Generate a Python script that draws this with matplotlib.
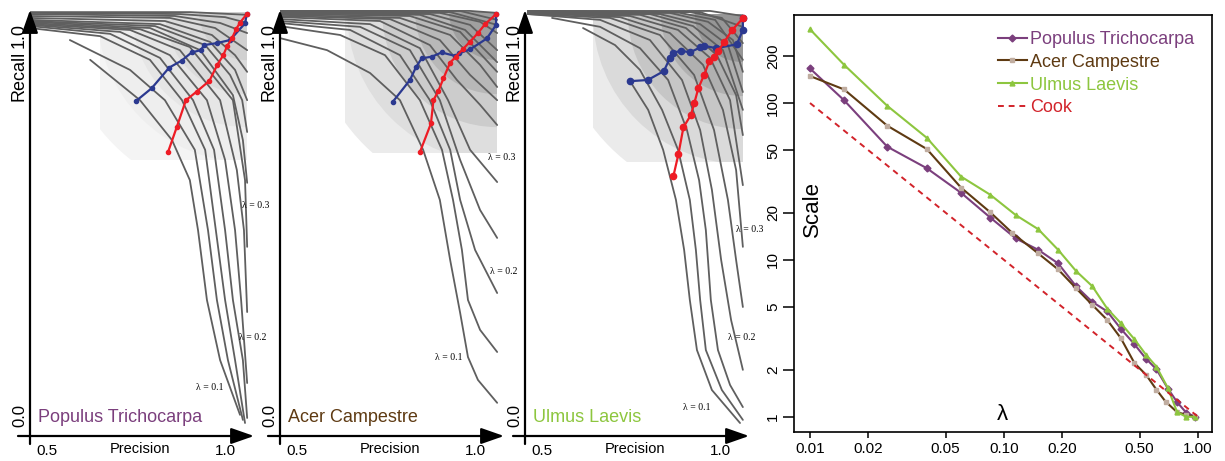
import matplotlib
matplotlib.use("Agg")
import matplotlib.pyplot as plt
from matplotlib.patches import Ellipse, Rectangle

plt.rcParams['font.family'] = ['Liberation Sans', 'DejaVu Sans']

# --- DATA: precision-recall curves (precision list, recall list) ---

populus_curves = [
    ([0.621, 0.761, 0.851, 0.901, 0.924, 0.949, 0.986, 1.042], [0.936, 0.832, 0.729, 0.626, 0.497, 0.317, 0.162, 0.021]),
    ([0.564, 0.733, 0.831, 0.915, 0.952, 0.977, 1.008, 1.050], [0.987, 0.910, 0.832, 0.704, 0.497, 0.317, 0.162, 0.008]),
    ([0.452, 0.649, 0.789, 0.879, 0.944, 0.974, 1.000, 1.028, 1.056], [1.018, 0.997, 0.936, 0.832, 0.704, 0.497, 0.317, 0.162, 0.000]),
    ([0.452, 0.677, 0.817, 0.910, 0.969, 1.000, 1.022, 1.050, 1.062], [1.023, 1.003, 0.941, 0.832, 0.704, 0.497, 0.317, 0.162, 0.013]),
    ([0.452, 0.705, 0.845, 0.949, 1.000, 1.028, 1.045, 1.062], [1.026, 1.008, 0.948, 0.832, 0.678, 0.497, 0.317, 0.103]),
    ([0.452, 0.733, 0.873, 0.986, 1.033, 1.053, 1.062], [1.028, 1.013, 0.961, 0.832, 0.652, 0.497, 0.286]),
    ([0.452, 0.761, 0.901, 1.022, 1.056, 1.062], [1.031, 1.015, 0.969, 0.832, 0.626, 0.454]),
    ([0.452, 0.789, 0.930, 1.022, 1.050, 1.062], [1.034, 1.018, 0.961, 0.845, 0.729, 0.619]),
    ([0.452, 0.803, 0.944, 1.014, 1.048, 1.062], [1.036, 1.023, 0.974, 0.897, 0.832, 0.750]),
    ([0.452, 0.817, 0.958, 1.028, 1.062], [1.039, 1.028, 0.982, 0.910, 0.832]),
    ([0.452, 0.831, 0.963, 1.028, 1.062], [1.044, 1.036, 1.000, 0.948, 0.905]),
    ([0.452, 0.845, 0.972, 1.062], [1.049, 1.044, 1.018, 0.961]),
    ([0.452, 0.859, 0.986, 1.062], [1.054, 1.049, 1.031, 1.005]),
    ([0.452, 0.873, 1.000, 1.062], [1.057, 1.054, 1.046, 1.031]),
    ([0.452, 0.901, 1.062], [1.059, 1.059, 1.052]),
]
populus_blue = ([0.750, 0.794, 0.843, 0.878, 0.906, 0.932, 0.941, 0.976, 1.014, 1.056, 1.061],
                [0.830, 0.863, 0.916, 0.934, 0.955, 0.961, 0.974, 0.979, 0.987, 1.030, 1.054])
populus_red = ([0.840, 0.864, 0.890, 0.920, 0.956, 0.978, 0.995, 1.006, 1.019, 1.031, 1.042, 1.061],
               [0.699, 0.762, 0.832, 0.854, 0.882, 0.923, 0.948, 0.972, 0.991, 1.015, 1.032, 1.054])

acer_curves = [
    ([0.452, 0.584, 0.705, 0.789, 0.854, 0.901, 0.930, 0.958, 0.980, 1.008, 1.062], [0.992, 0.961, 0.902, 0.832, 0.704, 0.575, 0.420, 0.284, 0.170, 0.111, 0.052]),
    ([0.452, 0.621, 0.747, 0.845, 0.907, 0.938, 0.963, 0.980, 1.014, 1.062], [1.023, 1.000, 0.948, 0.832, 0.704, 0.575, 0.446, 0.317, 0.240, 0.183]),
    ([0.452, 0.649, 0.789, 0.873, 0.930, 0.958, 1.000, 1.062], [1.031, 1.013, 0.948, 0.832, 0.704, 0.575, 0.446, 0.335]),
    ([0.452, 0.677, 0.817, 0.901, 0.958, 1.014, 1.062], [1.036, 1.021, 0.961, 0.832, 0.678, 0.549, 0.477]),
    ([0.452, 0.705, 0.845, 0.924, 0.986, 1.062], [1.041, 1.028, 0.966, 0.832, 0.704, 0.621]),
    ([0.452, 0.733, 0.873, 0.949, 1.014, 1.062], [1.046, 1.036, 0.974, 0.884, 0.820, 0.768]),
    ([0.452, 0.761, 0.901, 0.986, 1.062], [1.049, 1.041, 0.987, 0.897, 0.832]),
    ([0.452, 0.789, 0.930, 1.014, 1.062], [1.052, 1.044, 1.000, 0.923, 0.866]),
    ([0.452, 0.817, 0.958, 1.062], [1.054, 1.049, 1.008, 0.905]),
    ([0.452, 0.845, 0.972, 1.062], [1.057, 1.052, 1.013, 0.930]),
    ([0.452, 0.873, 0.986, 1.062], [1.057, 1.054, 1.026, 0.961]),
    ([0.452, 0.901, 1.014, 1.062], [1.059, 1.057, 1.034, 1.005]),
    ([0.452, 0.930, 1.062], [1.059, 1.059, 1.026]),
    ([0.452, 0.958, 1.062], [1.062, 1.062, 1.039]),
    ([0.452, 0.986, 1.062], [1.062, 1.062, 1.057]),
]
acer_blue = ([0.769, 0.817, 0.834, 0.850, 0.878, 0.906, 0.944, 0.956, 0.986, 1.033, 1.059, 1.059],
             [0.828, 0.884, 0.917, 0.940, 0.944, 0.955, 0.946, 0.953, 0.963, 0.991, 1.026, 1.054])
acer_red = ([0.845, 0.876, 0.883, 0.897, 0.911, 0.930, 0.946, 0.965, 0.986, 1.009, 1.028, 1.059],
            [0.698, 0.772, 0.832, 0.856, 0.888, 0.929, 0.944, 0.963, 0.983, 1.006, 1.028, 1.054])

ulmus_curves = [
    ([0.615, 0.705, 0.775, 0.837, 0.882, 0.915, 0.932, 0.944, 0.960, 1.005, 1.064], [1.018, 0.974, 0.910, 0.807, 0.704, 0.575, 0.446, 0.317, 0.188, 0.085, 0.008]),
    ([0.747, 0.798, 0.840, 0.876, 0.899, 0.915, 0.935, 0.977, 1.056], [0.881, 0.807, 0.704, 0.575, 0.446, 0.317, 0.188, 0.085, 0.000]),
    ([0.528, 0.663, 0.775, 0.854, 0.907, 0.941, 0.960, 0.974, 0.994, 1.028, 1.064], [1.044, 1.021, 0.966, 0.884, 0.755, 0.626, 0.497, 0.317, 0.188, 0.098, 0.041]),
    ([0.460, 0.663, 0.803, 0.893, 0.944, 0.977, 1.003, 1.031, 1.064], [1.054, 1.039, 0.987, 0.884, 0.755, 0.601, 0.420, 0.265, 0.137]),
    ([0.460, 0.691, 0.831, 0.927, 0.983, 1.022, 1.045, 1.064], [1.054, 1.044, 1.000, 0.897, 0.755, 0.575, 0.420, 0.299]),
    ([0.460, 0.719, 0.859, 0.952, 1.008, 1.045, 1.064], [1.057, 1.046, 1.005, 0.923, 0.807, 0.652, 0.454]),
    ([0.460, 0.747, 0.882, 0.972, 1.028, 1.064], [1.057, 1.049, 1.013, 0.941, 0.832, 0.613]),
    ([0.460, 0.775, 0.904, 0.991, 1.045, 1.064], [1.057, 1.052, 1.018, 0.948, 0.845, 0.742]),
    ([0.460, 0.803, 0.924, 1.008, 1.064], [1.059, 1.054, 1.023, 0.961, 0.807]),
    ([0.460, 0.831, 0.944, 1.022, 1.064], [1.059, 1.054, 1.028, 0.974, 0.853]),
    ([0.460, 0.859, 0.966, 1.036, 1.064], [1.059, 1.057, 1.034, 0.987, 0.905]),
    ([0.460, 0.887, 0.986, 1.064], [1.059, 1.057, 1.039, 0.936]),
    ([0.460, 0.915, 1.005, 1.064], [1.059, 1.059, 1.044, 0.979]),
    ([0.460, 0.944, 1.064], [1.062, 1.059, 1.021]),
    ([0.460, 0.972, 1.064], [1.062, 1.062, 1.049]),
]
ulmus_blue = ([0.747, 0.797, 0.842, 0.859, 0.867, 0.890, 0.915, 0.944, 0.956, 0.989, 1.047, 1.064, 1.064],
              [0.881, 0.884, 0.907, 0.940, 0.953, 0.960, 0.955, 0.968, 0.972, 0.966, 0.976, 1.013, 1.043])
ulmus_red = ([0.869, 0.883, 0.897, 0.918, 0.928, 0.939, 0.955, 0.970, 0.983, 0.995, 1.011, 1.034, 1.064],
             [0.637, 0.693, 0.762, 0.794, 0.826, 0.863, 0.897, 0.933, 0.944, 0.959, 0.981, 1.013, 1.043])

lam_labels = ['λ = 0.3', 'λ = 0.2', 'λ = 0.1']

# --- DATA: scale vs lambda ---
populus_lam = [0.01, 0.015, 0.025, 0.04, 0.06, 0.085, 0.115, 0.15, 0.19, 0.235, 0.285, 0.34, 0.40, 0.47, 0.54, 0.61, 0.70, 0.78, 0.87, 0.97]
populus_scale = [166, 104, 52.7, 38.4, 26.8, 18.6, 13.7, 11.6, 9.5, 6.8, 5.4, 4.7, 3.64, 2.90, 2.34, 2.01, 1.51, 1.24, 1.06, 1.0]
acer_lam = [0.01, 0.015, 0.025, 0.04, 0.06, 0.085, 0.11, 0.15, 0.19, 0.235, 0.285, 0.34, 0.40, 0.47, 0.54, 0.61, 0.68, 0.78, 0.87, 0.97]
acer_scale = [148.6, 122, 71.7, 50.9, 28.9, 20.1, 14.9, 11.0, 8.7, 6.6, 5.17, 4.15, 3.17, 2.20, 1.85, 1.49, 1.25, 1.07, 1.03, 1.0]
ulmus_lam = [0.01, 0.015, 0.025, 0.04, 0.06, 0.085, 0.115, 0.15, 0.19, 0.235, 0.285, 0.34, 0.40, 0.47, 0.54, 0.61, 0.70, 0.78, 0.87, 0.97]
ulmus_scale = [295, 175, 96, 60, 34, 26, 19.3, 15.7, 11.6, 8.5, 6.8, 4.9, 3.95, 3.12, 2.48, 2.09, 1.52, 1.07, 1.0, 1.0]
cook_lam = [0.01, 1.0]
cook_scale = [100, 1.0]

x_ticks = [0.01, 0.02, 0.05, 0.10, 0.20, 0.50, 1.00]
x_tick_labels = ['0.01', '0.02', '0.05', '0.10', '0.20', '0.50', '1.00']
y_ticks = [1, 2, 5, 10, 20, 50, 100, 200]

# --- STYLE ---
W, H = 1225, 461
AXIS_Y, TOP_Y, PANEL_W = 436, 10, 224
PX_P, PX_R = 356.0, 388.0          # pixels per unit precision / recall
P_MIN, P_MAX = 0.452, 0.452 + PANEL_W / PX_P
R_MIN, R_MAX = (423 - AXIS_Y) / PX_R, (423 - TOP_Y) / PX_R
RING_RADII = [188, 150, 115, 82, 48]

PURPLE = '#7b3f7d'
BROWN = '#5e3a12'
GREEN = '#8dc63f'
CRIMSON = '#d2232a'
BLUE = '#2b3990'
RED = '#ee1c25'
CURVE_GRAY = '#5f5f5f'

fig = plt.figure(figsize=(W / 100, H / 100), dpi=100)


def fig_text(x, y, s, **kw):
    fig.text(x / W, 1 - y / H, s, **kw)


def draw_pr(axis_x, curves, blue, red, shade, shade_colors, name, color, ms, lam_pos):
    ax = fig.add_axes([axis_x / W, 1 - AXIS_Y / H, PANEL_W / W, (AXIS_Y - TOP_Y) / H])
    ax.set_xlim(P_MIN, P_MAX)
    ax.set_ylim(R_MIN, R_MAX)
    ax.axis('off')

    # concentric gray shading in the top right corner
    p0, r0, p1, r1 = shade
    clip = Rectangle((p0, r0), p1 - p0, r1 - r0, facecolor='none', edgecolor='none')
    ax.add_patch(clip)
    for rad, c in zip(RING_RADII, shade_colors):
        e = Ellipse((p1, r1), 2 * rad / PX_P, 2 * rad / PX_R, facecolor=c, edgecolor='none', zorder=1)
        ax.add_patch(e)
        e.set_clip_path(clip)

    for p, r in curves:
        ax.plot(p, r, color=CURVE_GRAY, lw=1.3, solid_joinstyle='round', solid_capstyle='round', zorder=2)
    ax.plot(blue[0], blue[1], '-o', color=BLUE, lw=1.6, ms=ms, zorder=4)
    ax.plot(red[0], red[1], '-o', color=RED, lw=1.6, ms=ms, zorder=4)

    arrow_kw = dict(arrowstyle='-|>,head_length=1.0,head_width=0.35', mutation_scale=14,
                    lw=1.6, color='black', shrinkA=0, shrinkB=0)
    ax.annotate('', xy=(1, 0), xytext=(-12 / PANEL_W, 0), xycoords='axes fraction',
                arrowprops=arrow_kw, annotation_clip=False)
    ax.annotate('', xy=(0, 1), xytext=(0, -8 / (AXIS_Y - TOP_Y)), xycoords='axes fraction',
                arrowprops=arrow_kw, annotation_clip=False)

    fig_text(axis_x - 11, 76, 'Recall', rotation=90, fontsize=13, ha='center', va='center')
    fig_text(axis_x - 11, 36, '1.0', rotation=90, fontsize=13, ha='center', va='center')
    fig_text(axis_x - 10, 415, '0.0', rotation=90, fontsize=12, ha='center', va='center')
    fig_text(axis_x + 17, 451, '0.5', fontsize=11, ha='center', va='center')
    fig_text(axis_x + 195, 451, '1.0', fontsize=11, ha='center', va='center')
    fig_text(axis_x + 110, 449, 'Precision', fontsize=10.5, ha='center', va='center')
    fig_text(axis_x + 8, 417, name, fontsize=13, color=color, ha='left', va='center')
    for txt, (x, y) in zip(lam_labels, lam_pos):
        fig_text(x, y, txt, fontsize=7, ha='left', va='center', family=['Liberation Serif', 'DejaVu Serif'])


draw_pr(30, populus_curves, populus_blue, populus_red,
        (0.649, 0.678, 1.062, 1.059), ['#f4f4f4', '#eeeeee', '#e6e6e6', '#dcdcdc', '#d0d0d0'],
        'Populus Trichocarpa', PURPLE, 3, [(242, 205), (239, 337), (196, 387)])
draw_pr(280, acer_curves, acer_blue, acer_red,
        (0.635, 0.696, 1.062, 1.059), ['#ebebeb', '#dedede', '#cccccc', '#b8b8b8', '#a0a0a0'],
        'Acer Campestre', BROWN, 3, [(488, 157), (490, 272), (435, 358)])
draw_pr(525, ulmus_curves, ulmus_blue, ulmus_red,
        (0.643, 0.673, 1.064, 1.054), ['#ebebeb', '#dadada', '#c6c6c6', '#b0b0b0', '#969696'],
        'Ulmus Laevis', GREEN, 4.5, [(736, 229), (728, 338), (683, 407)])

# --- right panel: scale vs lambda ---
ax = fig.add_axes([794 / W, 1 - 432 / H, 418 / W, 417 / H])
ax.set_xscale('log')
ax.set_yscale('log')
ax.plot(populus_lam, populus_scale, '-D', color=PURPLE, lw=1.5, ms=3.5, label='Populus Trichocarpa')
ax.plot(acer_lam, acer_scale, '-s', color=BROWN, lw=1.5, ms=2.5, mfc='#c0ada0', mec='#c0ada0',
        label='Acer Campestre')
ax.plot(ulmus_lam, ulmus_scale, '-^', color=GREEN, lw=1.5, ms=3.5, label='Ulmus Laevis')
ax.plot(cook_lam, cook_scale, color=CRIMSON, lw=1.4, linestyle=(0, (3, 2.5)), label='Cook')

ax.set_xlim(0.00827, 1.18)
ax.set_ylim(0.80, 364)
ax.minorticks_off()
ax.set_xticks(x_ticks)
ax.set_xticklabels(x_tick_labels)
ax.set_yticks(y_ticks)
ax.set_yticklabels([str(v) for v in y_ticks])
ax.tick_params(axis='x', length=4, width=1.1, labelsize=11, pad=3)
ax.tick_params(axis='y', length=8, width=1.1, labelsize=11, pad=2, labelrotation=90)
for lab in ax.get_yticklabels():
    lab.set_va('center')
for sp in ax.spines.values():
    sp.set_linewidth(1.2)

ax.text(0.043, 0.535, 'Scale', rotation=90, fontsize=16, ha='center', va='center', transform=ax.transAxes)
ax.text(0.498, 0.043, 'λ', fontsize=16, ha='center', va='center', transform=ax.transAxes)

leg = ax.legend(loc='upper left', bbox_to_anchor=((998 - 794) / 418, (432 - 31) / 417),
                frameon=False, fontsize=13, borderpad=0, borderaxespad=0,
                handlelength=1.6, handletextpad=0.2, labelspacing=0.32)
for txt, c in zip(leg.get_texts(), [PURPLE, BROWN, GREEN, CRIMSON]):
    txt.set_color(c)

fig.savefig('out.png', dpi=100)
